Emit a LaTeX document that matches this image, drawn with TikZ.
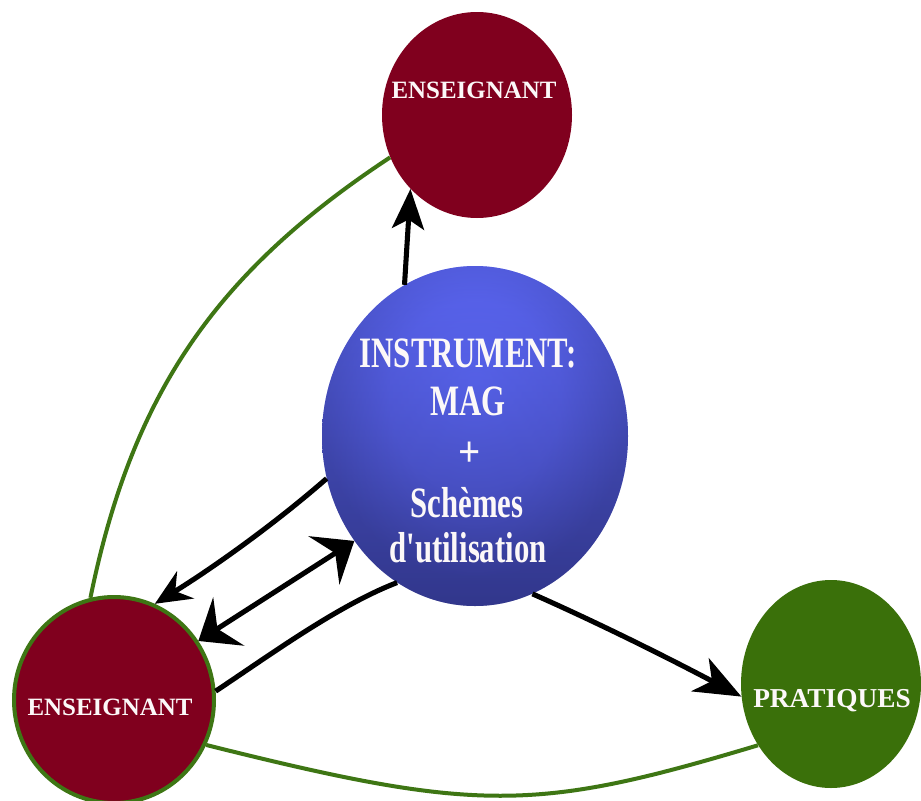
\documentclass[tikz,border=0pt]{standalone}
\usepackage{fontspec}
\usepackage{graphicx}
\setmainfont{Liberation Serif}[Ligatures=TeXOff]
\usetikzlibrary{shapes.geometric,arrows.meta}
\definecolor{dred}{RGB}{128,0,30}
\definecolor{pgreen}{RGB}{58,112,10}
\definecolor{lgreen}{RGB}{62,118,20}
\definecolor{btop}{RGB}{95,108,255}
\definecolor{bmid}{RGB}{80,88,215}
\definecolor{bbot}{RGB}{50,55,140}
\definecolor{txt}{RGB}{252,248,248}
\pgfdeclareradialshading{sphshade}{\pgfpoint{0bp}{8bp}}{color(0bp)=(btop!80!bmid); color(14bp)=(bmid); color(25bp)=(bbot); color(50bp)=(bbot)}
\begin{document}
\begin{tikzpicture}[x=0.75pt,y=-0.75pt,
  bubble/.style={ellipse, inner sep=0pt},
  lbl/.style={text=txt, font=\bfseries\fontsize{18.7}{20}\selectfont, anchor=base, inner sep=0pt},
  ctext/.style={text=txt, font=\bfseries\fontsize{32.5}{36}\selectfont, anchor=base, inner sep=0pt},
  gline/.style={draw=lgreen, line width=3pt},
  conn/.style={draw=black, line width=3.8pt},
  tipA/.tip={Stealth[length=30pt,width=24pt,inset=7pt]},
  tipB/.tip={Stealth[length=27pt,width=24pt,inset=9pt]},
  tipC/.tip={Stealth[length=27pt,width=43pt,inset=10pt]},
  tipD/.tip={Stealth[length=35pt,width=28pt,inset=10pt]}]
\useasboundingbox[fill=white] (0,0) rectangle (921,800);

\node[bubble, fill=dred, minimum width=142.5pt, minimum height=154.5pt] (T) at (477,115) {};
\node[bubble, top color=btop, middle color=bmid, bottom color=bbot, minimum width=229.5pt, minimum height=255pt] (B) at (475,436) {};
\shade[shading=sphshade, fill opacity=0.4] (B.center) ellipse [x radius=114.75pt, y radius=127.5pt];
\node[bubble, fill=dred, draw=lgreen, line width=3pt, minimum width=150pt, minimum height=154.5pt] (L) at (114,700) {};
\node[bubble, fill=pgreen, minimum width=135pt, minimum height=156pt] (P) at (831,684) {};

\node[lbl] (Tl) at (474,98) {ENSEIGNANT};
\node[lbl] (Ll) at (110,715) {ENSEIGNANT};
\node[lbl, font=\bfseries\fontsize{20.5}{22}\selectfont] (Pl) at (832,707) {PRATIQUES};

\node[ctext] (c1) at (468,367) {\scalebox{0.71}[1]{INSTRUMENT:}};
\node[ctext] (c2) at (468,415) {\scalebox{0.71}[1]{MAG}};
\node[ctext] (c3) at (470,466) {\scalebox{0.9}[1]{+}};
\node[ctext] (c4) at (467,517) {\scalebox{0.71}[1]{Schèmes}};
\node[ctext] (c5) at (468,562) {\scalebox{0.71}[1]{d'utilisation}};

\draw[gline] (T.206.8) .. controls +(-173,114) and +(42,-206) .. (L.103.9);
\draw[gline] (L.-26.6) .. controls +(272,68) and +(-223,67) .. (P.220.9);

\draw[conn, -tipA] (B.115.2) -- (T.228.3);
\draw[conn, -tipB] (B.196.3) .. controls +(-55,48) and +(55,-34) .. (L.67.7);
\draw[conn, tipC-tipC] (L.35.9) -- (B.221);
\draw[conn] (L.5.6) .. controls +(50,-33) and +(-60,23) .. (B.242.7);
\draw[conn, -tipD] (B.290.3) .. controls +(70,31) and +(-70,-37) .. (P.188.1);
\end{tikzpicture}
\end{document}
